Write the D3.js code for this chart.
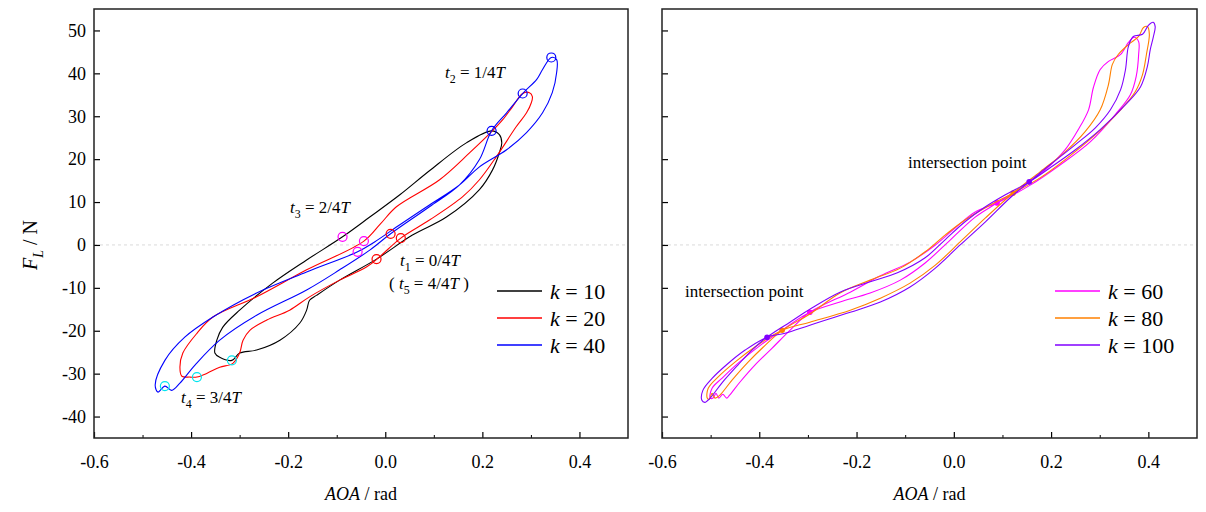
<!DOCTYPE html>
<html>
<head>
<meta charset="utf-8">
<script src="https://cdn.jsdelivr.net/npm/d3@7"></script>
<style>
  body { margin: 0; background: #fff; }
  text { font-family: "Liberation Serif", "Times New Roman", serif; }
</style>
</head>
<body>
<svg id="chart" width="1206" height="512"></svg>
<script>
// axis ticks
const xMajor = [-0.6, -0.4, -0.2, 0.0, 0.2, 0.4];
const xTickLabels = ["-0.6", "-0.4", "-0.2", "0.0", "0.2", "0.4"];
const xMinor = [-0.5, -0.3, -0.1, 0.1, 0.3];
const yTicks = [50, 40, 30, 20, 10, 0, -10, -20, -30, -40];
const yTickLabels = ["50", "40", "30", "20", "10", "0", "-10", "-20", "-30", "-40"];

// left panel: k = 10, 20, 40  (AOA, F_L)
const loopK10 = [[-0.018,-3.3],[0.056,2.3],[0.126,6.5],[0.194,12.9],[0.221,17.5],[0.235,21.5],[0.240,23.8],[0.235,25.7],[0.219,26.6],[0.167,23.8],[0.091,17.3],[0.030,11.7],[-0.032,6.5],[-0.088,1.9],[-0.162,-3.5],[-0.232,-8.9],[-0.300,-15.2],[-0.335,-19.2],[-0.347,-22.2],[-0.351,-25.2],[-0.341,-26.2],[-0.316,-26.9],[-0.300,-25.2],[-0.265,-24.5],[-0.217,-22.2],[-0.176,-18.2],[-0.162,-15.2],[-0.156,-12.9],[-0.141,-11.7],[-0.094,-8.2]];
const loopK20 = [[0.032,1.6],[0.091,5.8],[0.159,11.2],[0.194,15.2],[0.229,20.6],[0.270,27.6],[0.291,30.8],[0.301,33.2],[0.303,34.6],[0.297,35.5],[0.283,35.3],[0.262,32.2],[0.242,29.2],[0.219,26.4],[0.174,21.5],[0.112,15.2],[0.023,8.9],[-0.010,4.9],[-0.044,0.9],[-0.162,-5.8],[-0.265,-12.1],[-0.355,-16.8],[-0.388,-20.6],[-0.417,-25.2],[-0.423,-28.5],[-0.419,-30.6],[-0.402,-30.8],[-0.388,-30.8],[-0.367,-29.9],[-0.341,-28.5],[-0.314,-27.6],[-0.300,-25.2],[-0.293,-22.2],[-0.279,-19.9],[-0.244,-17.5],[-0.197,-15.2],[-0.156,-12.1],[-0.094,-8.2],[-0.038,-5.1],[-0.012,-2.8]];
const loopK40 = [[0.011,2.6],[0.091,8.9],[0.153,14.0],[0.194,19.9],[0.219,26.6],[0.250,30.8],[0.283,35.3],[0.312,38.6],[0.324,40.9],[0.342,43.7],[0.353,43.2],[0.353,40.2],[0.344,35.5],[0.324,30.8],[0.291,26.2],[0.250,22.2],[0.194,18.2],[0.153,14.0],[0.091,9.3],[0.030,4.7],[-0.022,0.7],[-0.057,-1.6],[-0.162,-6.3],[-0.265,-11.2],[-0.355,-16.8],[-0.413,-21.5],[-0.454,-26.9],[-0.474,-32.7],[-0.468,-34.3],[-0.454,-32.9],[-0.440,-33.9],[-0.423,-32.2],[-0.392,-28.0],[-0.341,-22.2],[-0.265,-16.4],[-0.162,-10.5],[-0.094,-5.8],[-0.032,-1.2]];

// time markers on the left loops: k=10, k=20, k=40
const markT1 = [[-0.018,-3.3],[0.032,1.6],[0.011,2.6]];
const markT2 = [[0.219,26.6],[0.283,35.3],[0.342,43.7]];
const markT3 = [[-0.088,1.9],[-0.044,0.9],[-0.057,-1.6]];
const markT4 = [[-0.316,-26.9],[-0.388,-30.8],[-0.454,-32.9]];

// right panel: k = 60, 80, 100
const loopK60 = [[-0.501,-35.7],[-0.497,-33.4],[-0.477,-31.1],[-0.444,-27.6],[-0.398,-23.4],[-0.347,-19.4],[-0.296,-15.7],[-0.234,-13.3],[-0.172,-11.2],[-0.110,-8.2],[-0.059,-4.2],[-0.007,1.2],[0.044,6.5],[0.089,9.8],[0.137,13.3],[0.188,17.5],[0.229,22.2],[0.256,26.9],[0.277,31.5],[0.287,36.7],[0.301,40.9],[0.318,42.8],[0.343,44.4],[0.359,47.2],[0.371,48.4],[0.380,47.4],[0.380,44.4],[0.375,39.3],[0.363,35.0],[0.332,30.4],[0.281,24.1],[0.219,18.7],[0.158,14.0],[0.089,9.8],[0.044,7.7],[0.003,4.0],[-0.038,0.0],[-0.090,-4.0],[-0.151,-7.2],[-0.213,-11.0],[-0.296,-15.7],[-0.337,-19.9],[-0.374,-24.1],[-0.409,-28.0],[-0.440,-32.0],[-0.461,-35.0],[-0.467,-35.7],[-0.475,-34.8],[-0.483,-35.7],[-0.489,-34.6],[-0.495,-35.7]];
const loopK80 = [[-0.507,-35.7],[-0.505,-33.4],[-0.485,-30.8],[-0.450,-27.3],[-0.409,-23.8],[-0.353,-19.9],[-0.296,-18.0],[-0.213,-15.2],[-0.151,-12.4],[-0.090,-8.9],[-0.038,-4.7],[0.013,0.7],[0.065,6.3],[0.122,12.1],[0.178,17.1],[0.229,21.7],[0.270,26.4],[0.301,31.5],[0.318,37.4],[0.326,42.1],[0.338,44.4],[0.359,46.7],[0.380,48.6],[0.390,50.7],[0.398,50.9],[0.402,49.1],[0.396,44.4],[0.388,39.7],[0.373,35.7],[0.343,31.5],[0.291,25.7],[0.229,19.9],[0.178,15.7],[0.122,12.1],[0.075,9.3],[0.023,5.8],[-0.018,2.3],[-0.059,-1.6],[-0.110,-5.4],[-0.172,-8.2],[-0.234,-11.2],[-0.296,-16.1],[-0.353,-19.9],[-0.388,-23.4],[-0.423,-27.3],[-0.456,-31.5],[-0.481,-35.0],[-0.491,-35.7],[-0.497,-34.6],[-0.503,-36.0]];
const loopK100 = [[-0.518,-36.2],[-0.516,-33.9],[-0.497,-31.1],[-0.466,-27.8],[-0.429,-24.5],[-0.384,-21.5],[-0.347,-20.6],[-0.296,-18.7],[-0.213,-15.7],[-0.151,-13.3],[-0.090,-9.8],[-0.038,-5.4],[0.013,0.0],[0.065,5.4],[0.116,11.0],[0.155,14.7],[0.198,18.7],[0.250,23.4],[0.291,27.3],[0.322,31.5],[0.343,36.2],[0.353,40.9],[0.359,46.3],[0.369,48.6],[0.388,49.1],[0.400,51.2],[0.410,51.9],[0.414,50.9],[0.410,48.4],[0.404,45.6],[0.398,41.6],[0.384,36.9],[0.353,32.7],[0.301,26.9],[0.250,22.2],[0.198,18.0],[0.155,14.7],[0.106,11.7],[0.065,8.9],[0.023,5.4],[-0.018,1.2],[-0.059,-3.0],[-0.116,-6.5],[-0.172,-8.6],[-0.234,-11.0],[-0.292,-14.7],[-0.337,-18.0],[-0.384,-21.5],[-0.415,-24.5],[-0.444,-28.0],[-0.477,-32.2],[-0.501,-35.7],[-0.512,-36.7]];

// intersection points: k=60, k=80, k=100
const crossLow = [[-0.296,-15.7],[-0.353,-19.9],[-0.384,-21.5]];
const crossHigh = [[0.089,9.8],[0.122,12.1],[0.155,14.7]];

const svg = d3.select("#chart");
const plotTop = 9, plotBottom = 438;

function panel(x0, x1, showYLabels) {
    const x = d3.scaleLinear().domain([-0.6, 0.5]).range([x0, x1]);
    const y = d3.scaleLinear().domain([-45, 55]).range([plotBottom, plotTop]);
    const g = svg.append("g");

    // zero line
    g.append("line")
        .attr("x1", x0).attr("x2", x1)
        .attr("y1", y(0)).attr("y2", y(0))
        .attr("stroke", "#d0d0d0").attr("stroke-width", 0.8)
        .attr("stroke-dasharray", "3,3");

    const xa = g.append("g")
        .attr("transform", `translate(0,${plotBottom})`)
        .call(d3.axisBottom(x).tickValues(xMajor).tickSize(-6).tickPadding(17)
            .tickFormat((d, i) => xTickLabels[i]));
    g.append("g")
        .attr("transform", `translate(0,${plotBottom})`)
        .call(d3.axisBottom(x).tickValues(xMinor).tickSize(-3).tickFormat(""))
        .select(".domain").remove();
    const ya = g.append("g")
        .attr("transform", `translate(${x0},0)`)
        .call(d3.axisLeft(y).tickValues(yTicks).tickSize(-6).tickPadding(8)
            .tickFormat((d, i) => showYLabels ? yTickLabels[i] : ""));
    [xa, ya].forEach(a => {
        a.select(".domain").remove();
        a.selectAll("text").attr("font-size", 18).attr("font-family", "Liberation Serif").attr("fill", "#000");
        a.selectAll("line").attr("stroke-width", 1.2);
    });

    // frame
    g.append("rect")
        .attr("x", x0).attr("y", plotTop)
        .attr("width", x1 - x0).attr("height", plotBottom - plotTop)
        .attr("fill", "none").attr("stroke", "#222").attr("stroke-width", 1.5);

    // axis title
    rich(g, (x0 + x1) / 2, 500, [{ t: "AOA", it: true }, { t: " / rad" }], 18, "middle");
    return { g, x, y };
}

function rich(g, px, py, parts, size, anchor) {
    const t = g.append("text").attr("x", px).attr("y", py)
        .attr("font-size", size).attr("text-anchor", anchor || "start").attr("fill", "#000");
    let shift = 0;
    parts.forEach(p => {
        const s = t.append("tspan").text(p.t);
        if (p.it) s.attr("font-style", "italic");
        const want = p.sub ? size * 0.3 : 0;
        if (want !== shift) { s.attr("dy", want - shift); shift = want; }
        if (p.sub) s.attr("font-size", size * 0.7);
    });
    return t;
}

// ---------- left panel ----------
const L = panel(94, 628, true);
const lineL = d3.line().curve(d3.curveCatmullRomClosed.alpha(0.5))
    .x(d => L.x(d[0])).y(d => L.y(d[1]));
const leftSeries = [
    { k: "10", data: loopK10, color: "#000000" },
    { k: "20", data: loopK20, color: "#ff0000" },
    { k: "40", data: loopK40, color: "#0000ff" }
];
leftSeries.forEach(s => {
    L.g.append("path").attr("d", lineL(s.data))
        .attr("fill", "none").attr("stroke", s.color).attr("stroke-width", 1.1);
});
const markers = [
    { pts: markT1, color: "#ff0000" },
    { pts: markT2, color: "#0000ff" },
    { pts: markT3, color: "#ff00ff" },
    { pts: markT4, color: "#00e5ee" }
];
markers.forEach(m => {
    L.g.selectAll(null).data(m.pts).enter().append("circle")
        .attr("cx", d => L.x(d[0])).attr("cy", d => L.y(d[1])).attr("r", 4.5)
        .attr("fill", "none").attr("stroke", m.color).attr("stroke-width", 1.2);
});
rich(L.g, 445, 78, [{ t: "t", it: true }, { t: "2", sub: true }, { t: " = 1/4" }, { t: "T", it: true }], 17);
rich(L.g, 290, 213, [{ t: "t", it: true }, { t: "3", sub: true }, { t: " = 2/4" }, { t: "T", it: true }], 17);
rich(L.g, 400, 266, [{ t: "t", it: true }, { t: "1", sub: true }, { t: " = 0/4" }, { t: "T", it: true }], 17);
rich(L.g, 389, 289, [{ t: "( " }, { t: "t", it: true }, { t: "5", sub: true }, { t: " = 4/4" }, { t: "T", it: true }, { t: " )" }], 17);
rich(L.g, 181, 403, [{ t: "t", it: true }, { t: "4", sub: true }, { t: " = 3/4" }, { t: "T", it: true }], 17);

function legend(g, lx, items) {
    items.forEach((s, i) => {
        const ly = 291 + i * 27;
        g.append("line").attr("x1", lx).attr("x2", lx + 45).attr("y1", ly).attr("y2", ly)
            .attr("stroke", s.color).attr("stroke-width", 1.3);
        rich(g, lx + 53, ly + 8, [{ t: "k", it: true }, { t: " = " + s.k }], 22);
    });
}
legend(L.g, 497, leftSeries);

// F_L / N
const yt = svg.append("g").attr("transform", "translate(37,245) rotate(-90)");
rich(yt, 0, 0, [{ t: "F", it: true }, { t: "L", it: true, sub: true }, { t: " / N" }], 20, "middle");

// ---------- right panel ----------
const R = panel(662, 1197, false);
const lineR = d3.line().curve(d3.curveCatmullRomClosed.alpha(0.5))
    .x(d => R.x(d[0])).y(d => R.y(d[1]));
const rightSeries = [
    { k: "60", data: loopK60, color: "#ff00ff" },
    { k: "80", data: loopK80, color: "#ff8000" },
    { k: "100", data: loopK100, color: "#8000ff" }
];
rightSeries.forEach((s, i) => {
    R.g.append("path").attr("d", lineR(s.data))
        .attr("fill", "none").attr("stroke", s.color).attr("stroke-width", 1.1);
    [crossLow[i], crossHigh[i]].forEach(p => {
        R.g.append("circle").attr("cx", R.x(p[0])).attr("cy", R.y(p[1])).attr("r", 2.8)
            .attr("fill", s.color);
    });
});
rich(R.g, 908, 168, [{ t: "intersection point" }], 17);
rich(R.g, 685, 297, [{ t: "intersection point" }], 17);
legend(R.g, 1055, rightSeries);
</script>
</body>
</html>
